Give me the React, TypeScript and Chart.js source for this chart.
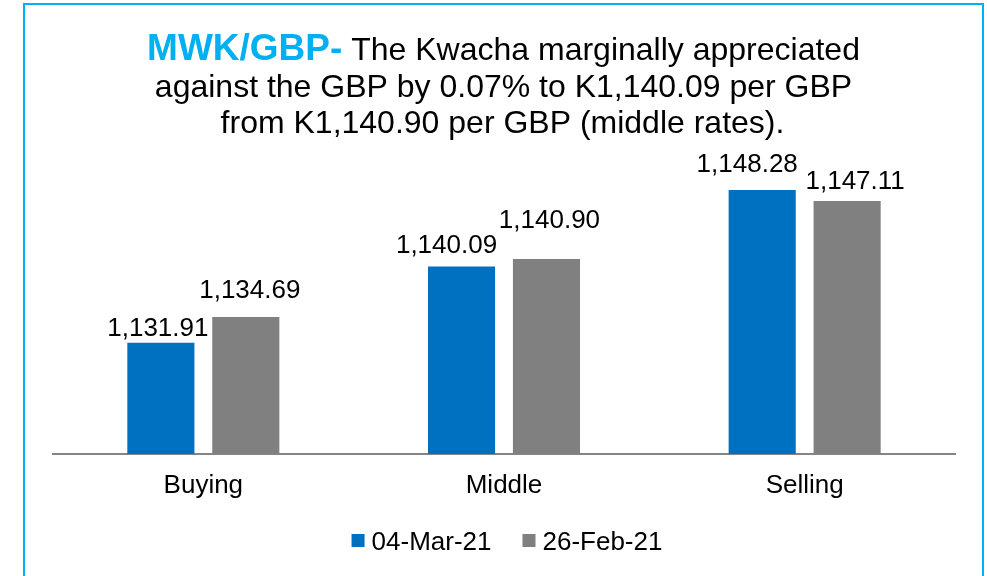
import React, { useEffect, useRef } from "react";
import { Chart, registerables } from "chart.js";

Chart.register(...registerables);

// ---- data ----
const categories = ["Buying", "Middle", "Selling"];
const seriesNames = ["04-Mar-21", "26-Feb-21"];
const mar04Values = [1131.91, 1140.09, 1148.28];
const feb26Values = [1134.69, 1140.9, 1147.11];
const titleLead = "MWK/GBP-";
const titleLines = [
  " The Kwacha marginally appreciated",
  "against the GBP by 0.07% to K1,140.09 per GBP",
  "from K1,140.90 per GBP (middle rates).",
];
const yMin = 1120;
const yMax = 1150;

// ---- style ----
const FONT = '"Liberation Sans", Arial, Helvetica, sans-serif';
const COLORS = ["#0070C0", "#808080"];
const ACCENT = "#00B0F0";
// label nudges (dx, gap above bar top) mimicking the moved labels of the original
const labelNudges = [
  [
    { dx: -3, gap: 7 },
    { dx: -15, gap: 13 },
    { dx: -15, gap: 18 },
  ],
  [
    { dx: 4, gap: 19 },
    { dx: 3, gap: 31 },
    { dx: 8, gap: 12 },
  ],
];

function fmt(v: number): string {
  const [i, d] = v.toFixed(2).split(".");
  return i.replace(/\B(?=(\d{3})+(?!\d))/g, ",") + "." + d;
}

const overlayPlugin = {
  id: "overlay",
  afterDatasetsDraw(chart: any) {
    const ctx: CanvasRenderingContext2D = chart.ctx;
    ctx.save();
    // data labels
    ctx.font = `26px ${FONT}`;
    ctx.fillStyle = "#000";
    ctx.textAlign = "center";
    ctx.textBaseline = "alphabetic";
    chart.data.datasets.forEach((ds: any, di: number) => {
      const meta = chart.getDatasetMeta(di);
      meta.data.forEach((bar: any, i: number) => {
        const n = labelNudges[di][i];
        ctx.fillText(fmt(ds.data[i]), bar.x + n.dx, bar.y - n.gap);
      });
    });

    // title
    const cx = 503.5;
    ctx.textAlign = "left";
    ctx.font = `bold 37px ${FONT}`;
    const wb = ctx.measureText(titleLead).width;
    ctx.font = `32px ${FONT}`;
    const wr = ctx.measureText(titleLines[0]).width;
    const sx = cx - (wb + wr) / 2;
    ctx.font = `bold 37px ${FONT}`;
    ctx.fillStyle = ACCENT;
    ctx.fillText(titleLead, sx, 60);
    ctx.font = `32px ${FONT}`;
    ctx.fillStyle = "#000";
    ctx.fillText(titleLines[0], sx + wb, 60);
    ctx.textAlign = "center";
    ctx.fillText(titleLines[1], cx, 96.7);
    ctx.fillText(titleLines[2], cx - 1, 133.3);

    // legend
    ctx.font = `26px ${FONT}`;
    ctx.textAlign = "left";
    const box = 13;
    const gapText = 7;
    const gapItem = 31;
    const widths = seriesNames.map((s) => ctx.measureText(s).width);
    const total =
      widths.reduce((a, w) => a + box + gapText + w, 0) + gapItem * (seriesNames.length - 1);
    let x = 507 - total / 2;
    seriesNames.forEach((s, i) => {
      ctx.fillStyle = COLORS[i];
      ctx.fillRect(x, 534, box, box);
      ctx.fillStyle = "#000";
      ctx.fillText(s, x + box + gapText, 550);
      x += box + gapText + widths[i] + gapItem;
    });
    ctx.restore();
  },
};

export default function App() {
  const canvasRef = useRef<HTMLCanvasElement | null>(null);

  useEffect(() => {
    if (!canvasRef.current) return;
    const chart = new Chart(canvasRef.current, {
      type: "bar",
      data: {
        labels: categories,
        datasets: [
          {
            label: seriesNames[0],
            data: mar04Values,
            backgroundColor: COLORS[0],
            barPercentage: 0.79,
            categoryPercentage: 0.565,
          },
          {
            label: seriesNames[1],
            data: feb26Values,
            backgroundColor: COLORS[1],
            barPercentage: 0.79,
            categoryPercentage: 0.565,
          },
        ],
      },
      options: {
        animation: false,
        responsive: true,
        maintainAspectRatio: false,
        layout: { padding: { left: 53, right: 32, top: 174, bottom: 0 } },
        plugins: {
          legend: { display: false },
          title: { display: false },
          tooltip: { enabled: false },
        },
        scales: {
          x: {
            grid: { display: false, drawTicks: false },
            border: { display: true, color: "#858585", width: 2 },
            ticks: {
              font: { size: 26, family: FONT },
              color: "#000",
              padding: 16,
            },
            afterFit: (s: any) => {
              s.height = 122;
            },
          },
          y: { display: false, min: yMin, max: yMax },
        },
      },
      plugins: [overlayPlugin],
    });
    return () => chart.destroy();
  }, []);

  return (
    <div
      style={{
        position: "fixed",
        left: 0,
        top: 0,
        width: 987,
        height: 576,
        overflow: "hidden",
        background: "#fff",
      }}
    >
      <div
        style={{
          position: "absolute",
          left: 23,
          top: 3,
          width: 961,
          height: 640,
          border: `2px solid ${ACCENT}`,
          boxSizing: "border-box",
        }}
      />
      <div style={{ position: "absolute", left: 0, top: 0, width: 987, height: 576 }}>
        <canvas ref={canvasRef} />
      </div>
    </div>
  );
}
